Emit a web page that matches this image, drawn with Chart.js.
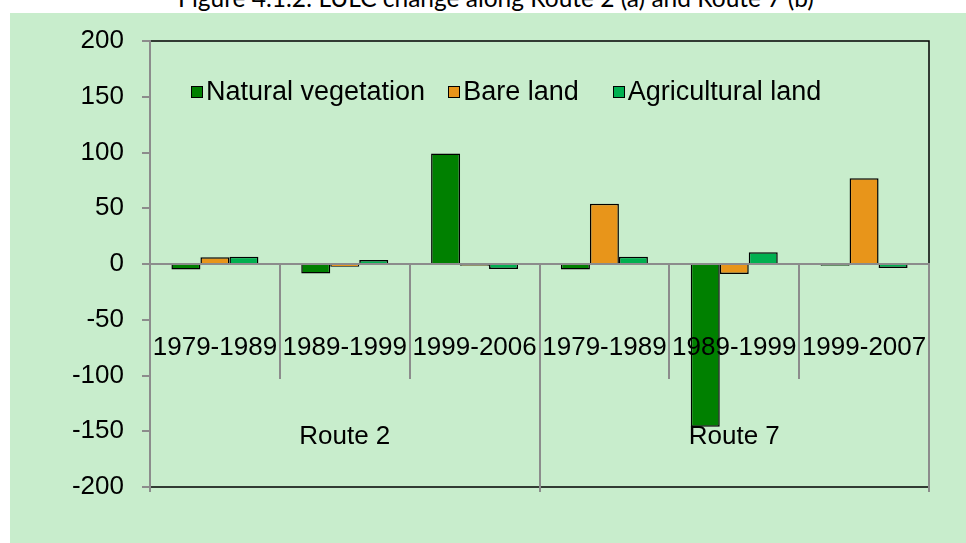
<!DOCTYPE html>
<html><head><meta charset="utf-8">
<script src="https://cdn.jsdelivr.net/npm/chart.js@4.4.1/dist/chart.umd.min.js"></script>
<style>
html,body{margin:0;padding:0;background:#fff;width:966px;height:543px;overflow:hidden;}
#title{position:absolute;left:13px;width:966px;text-align:center;top:-14px;font-family:Lato,'Open Sans',sans-serif;font-size:24.5px;line-height:24px;color:#000;white-space:nowrap;}
#wrap{position:absolute;left:10px;top:13px;width:956px;height:530px;background:#C8EDCC;}
#c{position:absolute;left:0;top:0;}
#legend{position:absolute;left:181px;top:63px;display:flex;align-items:center;font-family:'Liberation Sans',Arial,sans-serif;font-size:27px;line-height:31px;color:#000;white-space:nowrap;}
.item{display:flex;align-items:center;flex:none;}
.item:nth-child(1){margin-right:23px;}
.item:nth-child(2){margin-right:34px;}
.sw{flex:none;box-sizing:border-box;width:12px;height:12px;border:1.5px solid #000;margin-right:3px;}
</style></head>
<body>
<div id="title">Figure 4.1.2: LULC change along Route 2 (a) and Route 7 (b)</div>
<div id="wrap"><canvas id="c" width="956" height="530"></canvas><div id="legend"></div></div>
<script>
const periods = ['1979-1989','1989-1999','1999-2006','1979-1989','1989-1999','1999-2007'];
const routes = ['Route 2','Route 7'];
const seriesNames = ['Natural vegetation','Bare land','Agricultural land'];
const seriesColors = ['#008000','#E8951A','#00B050'];
const naturalVegetation = [-5, -8.5, 99, -5, -146, -1.5];
const bareLand = [6, -2.5, -1.5, 54, -9, 77];
const agriculturalLand = [6.5, 3.5, -4.5, 6.5, 10.5, -3.5];
const yMin = -200, yMax = 200, yStep = 50;

const seriesValues = [naturalVegetation, bareLand, agriculturalLand];

Chart.defaults.font.family = "'Liberation Sans', Arial, sans-serif";
Chart.defaults.color = '#000';

const plotBorder = {
  id: 'plotBorder',
  beforeDraw(chart) {
    const a = chart.chartArea, ctx = chart.ctx;
    ctx.save();
    ctx.strokeStyle = '#000';
    ctx.lineWidth = 1.5;
    ctx.strokeRect(a.left, a.top, a.right - a.left, a.bottom - a.top);
    ctx.restore();
  }
};

const gray = '#8c8c8c';

new Chart(document.getElementById('c'), {
  type: 'bar',
  data: {
    labels: periods,
    datasets: seriesNames.map((n, i) => ({
      label: n,
      data: seriesValues[i],
      backgroundColor: seriesColors[i],
      borderColor: '#000',
      borderWidth: 1.5,
      categoryPercentage: 0.67,
      barPercentage: 1.0,
      xAxisID: 'x',
      yAxisID: 'y'
    }))
  },
  options: {
    responsive: false,
    animation: false,
    events: [],
    layout: { padding: { top: 28, right: 37, bottom: 56, left: 0 } },
    plugins: { legend: { display: false }, tooltip: { enabled: false } },
    scales: {
      y: {
        position: 'left',
        min: yMin, max: yMax,
        afterFit(s) { s.width = 140; s.paddingTop = 0; s.paddingBottom = 0; },
        ticks: { stepSize: yStep, font: { size: 26 }, color: '#000', padding: 18 },
        grid: { drawOnChartArea: false, color: gray, lineWidth: 2, tickLength: 8 },
        border: { display: true, color: gray, width: 2 }
      },
      x: {
        type: 'category',
        axis: 'x',
        position: { y: 0 },
        offset: true,
        ticks: { z: 1, font: { size: 26 }, color: '#000', padding: -46, autoSkip: false, maxRotation: 0, minRotation: 0 },
        grid: { z: 1, offset: true, drawOnChartArea: false, color: gray, lineWidth: 2, tickLength: 114 },
        border: { z: 1, display: true, color: gray, width: 2 }
      },
      x2: {
        type: 'category',
        axis: 'x',
        labels: routes,
        position: { y: 0 },
        offset: true,
        ticks: { z: 1, font: { size: 26 }, color: '#000', padding: -71, autoSkip: false, maxRotation: 0, minRotation: 0 },
        grid: { z: 1, offset: true, drawOnChartArea: false, color: gray, lineWidth: 2, tickLength: 228 },
        border: { display: false }
      }
    }
  },
  plugins: [plotBorder]
});

const leg = document.getElementById('legend');
seriesNames.forEach((n, i) => {
  const it = document.createElement('div'); it.className = 'item';
  const sw = document.createElement('div'); sw.className = 'sw'; sw.style.background = seriesColors[i];
  const tx = document.createElement('span'); tx.textContent = n;
  it.appendChild(sw); it.appendChild(tx); leg.appendChild(it);
});
</script>
</body></html>
